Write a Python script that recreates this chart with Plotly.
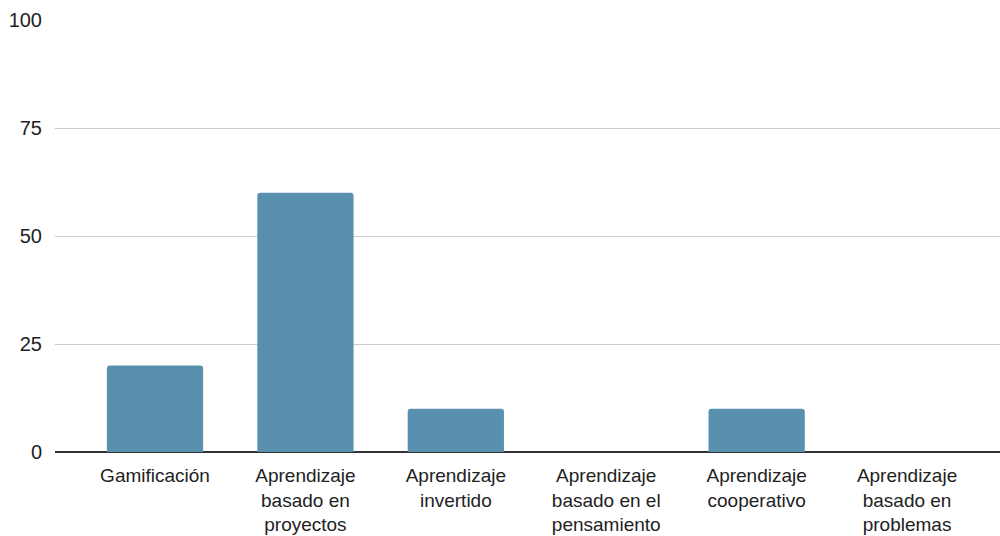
import plotly.graph_objects as go

categories = ["Gamificación", "Aprendizaje<br>basado en<br>proyectos", "Aprendizaje<br>invertido",
              "Aprendizaje<br>basado en el<br>pensamiento", "Aprendizaje<br>cooperativo",
              "Aprendizaje<br>basado en<br>problemas"]
values = [20, 60, 10, 0, 10, 0]
y_ticks = [0, 25, 50, 75, 100]

fig = go.Figure(go.Bar(
    x=list(range(len(categories))), y=values, width=0.64,
    marker=dict(color="#5990ae", cornerradius=3, line=dict(width=0)),
))
fig.update_layout(
    width=1000, height=536, margin=dict(l=55, r=0, t=20, b=84),
    paper_bgcolor="white", plot_bgcolor="white",
    font=dict(family="Liberation Sans, Arial, sans-serif", size=19, color="#222222"),
    showlegend=False,
)
fig.update_xaxes(
    tickmode="array", tickvals=list(range(len(categories))), ticktext=categories,
    range=[-0.665, 5.618], showgrid=False, showline=False, ticks="",
    ticklabelstandoff=10, zeroline=False, tickfont=dict(size=19), automargin=False,
)
fig.update_yaxes(
    range=[0, 100], tickvals=y_ticks, showgrid=True, gridcolor="#cccccc", gridwidth=1,
    zeroline=True, zerolinecolor="#333333", zerolinewidth=1.5, ticks="", ticklabelstandoff=12,
    showline=False, tickfont=dict(size=20), automargin=False,
)
fig.write_html("out.html")
